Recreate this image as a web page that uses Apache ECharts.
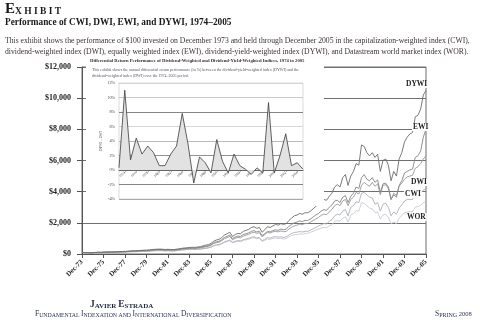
<!DOCTYPE html>
<html><head><meta charset="utf-8">
<script src="https://cdn.jsdelivr.net/npm/echarts@6/dist/echarts.min.js"></script>
<style>html,body{margin:0;padding:0;background:#fff}#c{width:480px;height:321px}</style>
</head><body><div id="c"></div>
<script>
// Quarterly dates, Dec-73 .. Dec-05
const quarters = [];
const MON = ['Dec','Mar','Jun','Sep'];
for (let i = 0; i < 129; i++) { const m = 11 + 3 * i; const yr = 1973 + Math.floor(m / 12); quarters.push(MON[i % 4] + '-' + String(yr % 100).padStart(2, '0')); }

// Value of $100 invested (quarterly)
const DYWI = [100,
 95,88,78,85, 100,112,108,120, 128,132,135,140, 148,152,160,170, 182,195,205,210, 222,230,245,250,
 262,285,300,310, 315,305,290,300, 290,285,305,330, 360,385,400,420, 430,425,450,470, 520,570,600,680,
 820,900,940,1050, 1220,1300,1400,1120, 1250,1320,1300,1450, 1520,1580,1700,1750, 1650,1700,1400,1550,
 1750,1700,1800,1900, 1850,1950,1900,1950, 2150,2300,2450,2500, 2600,2550,2650,2650, 2750,2900,3050,3200,
 3400,3500,3450,3700, 3900,4300,4450,4300, 4900,5100,4400,5000, 5300,5800,5700,7000, 6900,6500,6300,6500,
 6200,6400,5300,6000, 6100,5700,4700,5300, 5000,6100,6500,7200, 7500,7700,7800,8800, 8900,9300,10200,10500];
const EWI = [100,
 92,85,75,80, 95,105,100,110, 118,120,122,125, 132,138,144,150, 162,175,185,190, 200,208,220,225,
 235,255,270,280, 285,275,260,270, 262,258,275,300, 325,345,360,380, 385,380,400,420, 460,500,530,600,
 720,790,820,920, 1060,1130,1220,980, 1090,1150,1130,1250, 1300,1350,1450,1500, 1420,1460,1180,1300,
 1450,1420,1500,1550, 1520,1600,1560,1600, 1780,1900,2000,2050, 2120,2080,2160,2150, 2250,2380,2500,2600,
 2750,2850,2800,3000, 3150,3400,3450,3300, 3650,3750,3300,3700, 3900,4300,4200,4900, 5100,4800,4700,4900,
 4600,4750,3950,4500, 4550,4300,3500,3800, 3650,4400,4700,5200, 5300,5400,5450,6200, 6300,6600,7500,8000];
const DWI = [100,
 93,86,77,82, 96,104,100,110, 116,119,121,125, 130,135,140,145, 155,168,176,180, 188,195,205,210,
 220,238,252,260, 263,255,242,250, 244,240,256,280, 302,320,335,350, 355,350,370,390, 425,465,490,560,
 670,730,760,850, 980,1050,1130,910, 1010,1060,1040,1150, 1210,1260,1350,1400, 1330,1360,1100,1250,
 1380,1350,1420,1450, 1420,1480,1430,1450, 1600,1720,1800,1850, 1920,1880,1960,1950, 2050,2150,2250,2350,
 2480,2560,2520,2700, 2850,3100,3200,3100, 3400,3500,3100,3500, 3650,3950,3850,4400, 4600,4450,4350,4600,
 4350,4500,3800,4400, 4450,4200,3500,3900, 3750,4350,4550,4800, 4950,5000,5050,5500, 5600,5800,6100,6300];
const CWI = [100,
 92,84,73,75, 88,96,92,100, 105,107,108,110, 113,117,121,125, 133,142,148,150, 157,163,172,175,
 182,198,212,220, 222,214,202,210, 204,200,215,240, 258,275,288,300, 302,296,310,320, 345,375,400,450,
 540,590,610,680, 780,840,900,760, 820,860,840,920, 960,1000,1070,1100, 1030,1060,860,950,
 1050,1020,1090,1120, 1080,1110,1060,1100, 1220,1320,1380,1400, 1440,1410,1460,1450, 1530,1620,1700,1800,
 1880,1950,1930,2100, 2200,2450,2550,2500, 2750,2850,2450,3000, 3100,3350,3300,3900, 3950,3800,3650,3600,
 3200,3300,2750,3200, 3250,3000,2450,2700, 2550,2950,3150,3400, 3500,3500,3500,3800, 3850,3900,4100,4200];
const WOR = [100,
 91,83,72,75, 87,95,91,100, 104,106,106,108, 111,115,119,122, 130,139,145,148, 154,160,168,170,
 177,192,206,215, 217,209,197,205, 199,195,210,235, 250,266,278,290, 292,286,300,310, 332,360,384,430,
 510,560,578,640, 735,790,850,720, 775,815,795,870, 910,950,1020,1050, 980,1000,800,880,
 960,935,1000,1020, 985,1010,960,1000, 1100,1190,1240,1250, 1290,1270,1320,1330, 1390,1460,1530,1600,
 1660,1710,1690,1800, 1880,2080,2150,2100, 2300,2380,2050,2500, 2600,2780,2750,3300, 3250,3100,2950,2900,
 2650,2700,2250,2500, 2550,2350,1950,2050, 1950,2300,2450,2650, 2700,2720,2730,3000, 3050,3120,3300,3350];

// Inset: annual differential return (%)
const insetYears = [];
for (let y = 1973; y <= 2005; y++) insetYears.push(String(y));
const insetDiff = [0.3, 11.0, 1.4, 4.4, 2.2, 3.3, 2.4, 0.6, 0.6, 2.2, 3.3, 7.8, 3.6, -1.8, 1.8, 1.0, -0.4,
 4.2, 1.2, -0.4, 2.2, 0.6, 0.1, -0.6, 0.3, -0.4, 9.3, -0.4, 2.0, 5.0, 0.6, 1.0, 0.1];

const SERIF = '"Liberation Serif", "DejaVu Serif", serif';
const chart = echarts.init(document.getElementById('c'), null, {renderer: 'canvas'});

function txt(text, x, y, font, fill, extra) {
  return {type: 'text', z: 70, style: Object.assign({text: text, x: x, y: y, font: font, fill: fill, textVerticalAlign: 'middle'}, extra || {})};
}
function rt(name, size, color, bold, lh) {
  return {fontFamily: SERIF, fontWeight: bold ? 'bold' : 'normal', fontSize: size, color: color, verticalAlign: 'bottom', lineHeight: lh};
}

const option = {
  animation: false,
  backgroundColor: '#fff',
  title: [
    {left: 5, top: 3, padding: 0, text: '{e|E}{x|X H I B I T}',
     textStyle: {fontSize: 5, lineHeight: 14, rich: {e: rt('e', 15, '#1a1a1a', true, 14), x: rt('x', 9.5, '#1a1a1a', true, 14)}}},
    {left: 90, top: 300, padding: 0, text: '{b|J}{s|AVIER }{b|E}{s|STRADA}',
     textStyle: {fontSize: 5, lineHeight: 10, rich: {b: rt('b', 9.5, '#1f2940', true, 10), s: rt('s', 7, '#1f2940', true, 10)}}},
    {left: 35, top: 310, padding: 0, text: '{b|F}{s|UNDAMENTAL }{b|I}{s|NDEXATION AND }{b|I}{s|NTERNATIONAL }{b|D}{s|IVERSIFICATION}',
     textStyle: {fontSize: 4, lineHeight: 8, rich: {b: rt('b', 7.5, '#2d3558', false, 8), s: rt('s', 5.8, '#2d3558', false, 8)}}},
    {left: 435, top: 310, padding: 0, text: '{b|S}{s|PRING }{n|2008}',
     textStyle: {fontSize: 4, lineHeight: 8, rich: {b: rt('b', 7.5, '#2d3558', false, 8), s: rt('s', 6, '#2d3558', false, 8), n: rt('n', 6.5, '#2d3558', false, 8)}}}
  ],
  grid: [
    {left: 82, right: 54, top: 67, bottom: 67, show: true, borderColor: '#6e6e6e', borderWidth: 1, backgroundColor: 'transparent'},
    {left: 119, right: 177, top: 83, bottom: 122, show: true, borderColor: '#c4c4c4', borderWidth: 0.6, backgroundColor: 'transparent', z: 60}
  ],
  xAxis: [
    {type: 'category', gridIndex: 0, data: quarters, boundaryGap: false,
     axisLine: {lineStyle: {color: '#555', width: 1}},
     axisTick: {interval: 7, length: 4, lineStyle: {color: '#555'}},
     axisLabel: {interval: 7, rotate: 45, margin: 7, fontFamily: SERIF, fontWeight: 'bold', fontSize: 7, color: '#222'},
     splitLine: {show: false}},
    {type: 'category', gridIndex: 1, data: insetYears, boundaryGap: false, z: 60, position: 'bottom', offset: -29,
     axisLine: {onZero: false, lineStyle: {color: '#555', width: 0.8}},
     axisTick: {interval: function (i) { return i % 2 === 1; }, length: 2, lineStyle: {color: '#666', width: 0.5}},
     axisLabel: {interval: function (i) { return i % 2 === 1; }, rotate: 45, margin: 2, fontSize: 3.5, fontFamily: SERIF, color: '#444'},
     splitLine: {show: false}}
  ],
  yAxis: [
    {type: 'value', gridIndex: 0, min: 0, max: 12000, interval: 2000,
     axisLine: {show: true, lineStyle: {color: '#555', width: 1}},
     axisTick: {show: true, length: 5, lineStyle: {color: '#555'}},
     axisLabel: {margin: 11, fontFamily: SERIF, fontWeight: 'bold', fontSize: 8, color: '#222',
                 formatter: function (v) { return '$' + v.toLocaleString('en-US'); }},
     splitLine: {lineStyle: {color: '#707070', width: 1}}},
    {type: 'value', gridIndex: 1, min: -4, max: 12, interval: 2, z: 60,
     name: 'DYWI – DWI', nameLocation: 'middle', nameGap: 13, nameRotate: 90,
     nameTextStyle: {fontSize: 3.5, fontFamily: SERIF, color: '#444'},
     axisLine: {show: false}, axisTick: {show: false},
     axisLabel: {margin: 4, fontSize: 4.2, fontFamily: SERIF, color: '#444', formatter: '{value}%'},
     splitLine: {lineStyle: {width: 0.8, color: ['#999', '#666', '#888', '#777', '#aaa', '#ccc', '#666', '#bbb', '#ccc']}}}
  ],
  series: [
    {name: 'WOR', type: 'line', data: WOR, showSymbol: false, lineStyle: {color: '#c6cbd4', width: 0.9}, z: 2},
    {name: 'CWI', type: 'line', data: CWI, showSymbol: false, lineStyle: {color: '#aeb0b6', width: 0.9}, z: 3},
    {name: 'DWI', type: 'line', data: DWI, showSymbol: false, lineStyle: {color: '#989898', width: 0.9}, z: 4},
    {name: 'EWI', type: 'line', data: EWI, showSymbol: false, lineStyle: {color: '#858585', width: 0.9}, z: 5},
    {name: 'DYWI', type: 'line', data: DYWI, showSymbol: false, lineStyle: {color: '#6c6c6c', width: 0.9}, z: 6},
    {name: 'Diff', type: 'line', xAxisIndex: 1, yAxisIndex: 1, data: insetDiff, showSymbol: false, z: 61,
     lineStyle: {color: '#3a3a3a', width: 0.8}, areaStyle: {color: '#e2e2e2', opacity: 1}}
  ],
  graphic: {elements: [
    {type: 'rect', z: 50, shape: {x: 86, y: 57, width: 238, height: 149}, style: {fill: '#fff'}},
    txt('Performance of CWI, DWI, EWI, and DYWI, 1974–2005', 5, 23, 'bold 9.3px ' + SERIF, '#1a1a1a'),
    txt('This exhibit shows the performance of $100 invested on December 1973 and held through December 2005 in the capitalization-weighted index (CWI),', 5, 41, '7.7px ' + SERIF, '#3d3333'),
    txt('dividend-weighted index (DWI), equally weighted index (EWI), dividend-yield-weighted index (DYWI), and Datastream world market index (WOR).', 5, 52, '7.7px ' + SERIF, '#3d3333'),
    txt('Differential Return Performance of Dividend-Weighted and Dividend-Yield-Weighted Indices, 1974 to 2005', 90, 61, 'bold 4.7px ' + SERIF, '#333'),
    txt('This exhibit shows the annual differential return performance (in %) between the dividend-yield-weighted index (DYWI) and the', 92, 70, '4px ' + SERIF, '#556'),
    txt('dividend-weighted index (DWI) over the 1974–2005 period.', 92, 75.5, '4px ' + SERIF, '#556'),
    txt('DYWI', 405, 84, 'bold 7.5px ' + SERIF, '#222', {backgroundColor: '#fff', padding: [0, 1]}),
    txt('EWI', 412, 127, 'bold 7.5px ' + SERIF, '#222', {backgroundColor: '#fff', padding: [0, 1]}),
    txt('DWI', 410, 182, 'bold 7.5px ' + SERIF, '#222', {backgroundColor: '#fff', padding: [0, 1]}),
    txt('CWI', 404, 194, 'bold 7.5px ' + SERIF, '#222', {backgroundColor: '#fff', padding: [0, 1]}),
    txt('WOR', 406, 217, 'bold 7.5px ' + SERIF, '#222', {backgroundColor: '#fff', padding: [0, 1]})
  ]}
};
chart.setOption(option);
</script></body></html>
